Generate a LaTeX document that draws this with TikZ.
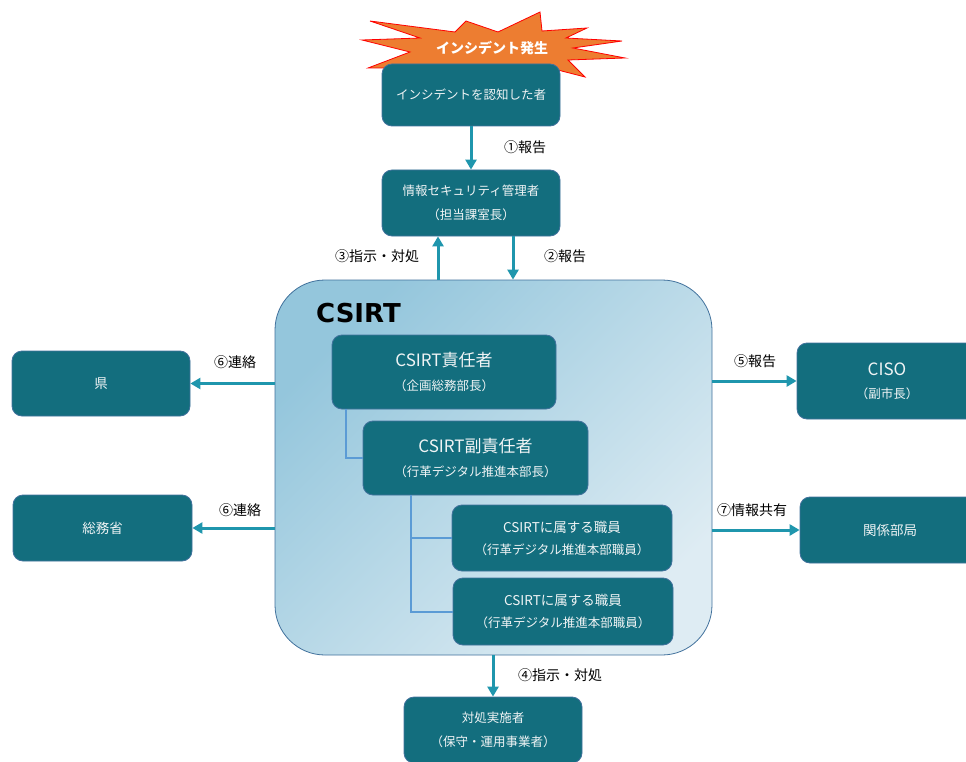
\documentclass[tikz,border=0pt]{standalone}
\usepackage{fontspec}
\setmainfont{Noto Sans CJK JP}
\newfontfamily\titlefont{DejaVu Sans}
\usetikzlibrary{arrows.meta,calc}
\definecolor{boxfill}{RGB}{19,110,126}
\definecolor{boxline}{RGB}{65,113,156}
\definecolor{arrowc}{RGB}{31,150,173}
\definecolor{conn}{RGB}{91,155,213}
\definecolor{shA}{RGB}{148,198,220}
\definecolor{shB}{RGB}{222,236,243}
\definecolor{burst}{RGB}{237,125,49}
\definecolor{boxtext}{RGB}{240,244,245}
\newcommand{\fsz}[1]{\fontsize{#1}{#1}\selectfont}
\begin{document}
\begin{tikzpicture}[x=1pt,y=-1pt,
  box/.style={draw=boxline, line width=0.8pt, fill=boxfill, rounded corners=10pt, text=boxtext, align=center, inner sep=0pt},
  arr/.style={draw=arrowc, line width=3pt, -{Triangle[length=10pt,width=11pt]}},
  lbl/.style={font=\fsz{14}, text=black, inner sep=0pt},
  connline/.style={draw=conn, line width=2pt}]
\useasboundingbox (0,0) rectangle (966,762);

% starburst
\draw[fill=burst, draw=red, line width=0.8pt]
  (370,21) -- (455,32) -- (466,21) -- (498,32) -- (540,12) -- (542,31)
  -- (587,28) -- (566,38) -- (622,41) -- (573,48) -- (625,58) -- (568,60)
  -- (585,77) -- (550,68) -- (420,68) -- (368,68) -- (410,52) -- (362,40)
  -- (420,38) -- cycle;
\node[font=\fsz{14}\bfseries, text=white, inner sep=0pt] (burstlabel) at (492,48) {インシデント発生};

% top boxes
\node[box, minimum width=178pt, minimum height=62pt, font=\fsz{12.5}] (b1) at (471,95) {インシデントを認知した者};
\node[box, minimum width=178pt, minimum height=66pt, font=\fsz{12.5}] (b2) at (471,203) {情報セキュリティ管理者\\[12pt]（担当課室長）};

% CSIRT container
\node[draw=boxline, line width=0.8pt, rounded corners=50pt, top color=shA, bottom color=shB, shading angle=45,
      minimum width=437pt, minimum height=375pt, inner sep=0pt] (csirt) at (493.5,467.5) {};
\node[font=\titlefont\bfseries\fsz{26}, anchor=west, inner sep=0pt] (title) at (316,313) {CSIRT};

\node[box, minimum width=224pt, minimum height=74pt] (s1) at (444,372)
  {{\fsz{17}CSIRT責任者}\\[10pt]{\fsz{12.5}（企画総務部長）}};
\node[box, minimum width=225pt, minimum height=74pt] (s2) at (475.5,458)
  {{\fsz{17}CSIRT副責任者}\\[10pt]{\fsz{12.5}（行革デジタル推進本部長）}};
\node[box, minimum width=220pt, minimum height=66pt] (m1) at (562,538)
  {{\fsz{13.5}CSIRTに属する職員}\\[10pt]{\fsz{12.5}（行革デジタル推進本部職員）}};
\node[box, minimum width=220pt, minimum height=67pt] (m2) at (563,611.5)
  {{\fsz{13.5}CSIRTに属する職員}\\[10pt]{\fsz{12.5}（行革デジタル推進本部職員）}};

\draw[connline] ([xshift=14pt]s1.south west) |- (s2.west);
\draw[connline] ([xshift=48pt]s2.south west) |- (m1.west);
\draw[connline] ([xshift=48pt]s2.south west) |- (m2.west);

% side boxes
\node[box, minimum width=178pt, minimum height=65pt, font=\fsz{13.5}] (ken) at (101,383.5) {県};
\node[box, minimum width=179pt, minimum height=66pt, font=\fsz{13.5}] (soumu) at (102.5,528) {総務省};
\node[box, minimum width=180pt, minimum height=76pt] (ciso) at (887,381)
  {{\fsz{17}CISO}\\[11pt]{\fsz{12.5}（副市長）}};
\node[box, minimum width=180pt, minimum height=66pt, font=\fsz{13.5}] (kankei) at (890,530) {関係部局};
\node[box, minimum width=178pt, minimum height=66pt, font=\fsz{12.5}] (taisho) at (493,730) {対処実施者\\[11pt]（保守・運用事業者）};

% arrows
\coordinate (a2) at ($(b2.south)+(42,0)$);
\coordinate (a3) at ($(b2.south)+(-33,0)$);
\draw[arr] (b1.south) -- (b2.north);
\draw[arr] (a2) -- (a2 |- csirt.north);
\draw[arr] (a3 |- csirt.north) -- (a3);
\draw[arr] (csirt.south -| taisho.north) -- (taisho.north);
\draw[arr] (csirt.west |- ken.east) -- (ken.east);
\draw[arr] (csirt.west |- soumu.east) -- (soumu.east);
\draw[arr] (csirt.east |- ciso.west) -- (ciso.west);
\draw[arr] (csirt.east |- kankei.west) -- (kankei.west);

% labels
\node[lbl] (l1) at (525,147) {①報告};
\node[lbl] (l2) at (565,256) {②報告};
\node[lbl] (l3) at (377,256) {③指示・対処};
\node[lbl] (l4) at (560,675) {④指示・対処};
\node[lbl] (l5) at (755,361) {⑤報告};
\node[lbl] (l6a) at (235,362) {⑥連絡};
\node[lbl] (l6b) at (240,510) {⑥連絡};
\node[lbl] (l7) at (752,510) {⑦情報共有};
\end{tikzpicture}
\end{document}
